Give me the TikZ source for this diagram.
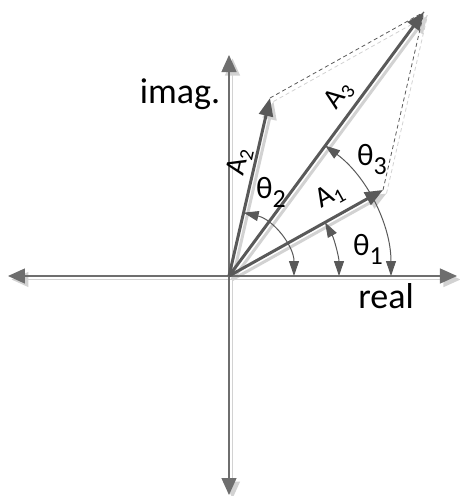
\documentclass[tikz,border=0pt]{standalone}
\usepackage{fontspec}
\setmainfont{Carlito}
\usepackage{xcolor}
\usetikzlibrary{arrows.meta, calc}
\definecolor{vecgray}{HTML}{595959}
\definecolor{axisgray}{HTML}{6E6E6E}
\definecolor{shadegray}{HTML}{D2D2D2}
\tikzset{
    phasor/.style={x=1pt, y=1pt, font=\fontsize{29}{32}\selectfont},
    axis/.style={draw=axisgray, line width=1.3pt, {Triangle[length=17pt, width=15pt]}-{Triangle[length=17pt, width=15pt]}},
    vec/.style={draw=vecgray, line width=3pt, -{Triangle[length=18pt, width=14pt]}},
    helper/.style={draw=vecgray, line width=0.8pt, dash pattern=on 4pt off 3pt},
    anglearc/.style={draw=vecgray, line width=1pt, {Triangle[length=15pt, width=10pt]}-{Triangle[length=15pt, width=10pt]}},
    % light copy of a line, pushed down and right
    shade/.style={draw=shadegray, transform canvas={shift={(3.5pt,-3.5pt)}}},
    axislabel/.style={font=\fontsize{36}{40}\selectfont, anchor=base},
    anglelabel/.style={font=\fontsize{31}{34}\selectfont, anchor=base, inner sep=0pt},
    veclabel/.style={inner sep=0pt},
}
\newcommand{\lowidx}[1]{\raisebox{-0.3em}{\fontsize{26}{26}\selectfont #1}}
\newcommand{\vecidx}[1]{\raisebox{-0.15em}{\fontsize{20}{20}\selectfont #1}}

\begin{document}
\begin{tikzpicture}[phasor]
    \useasboundingbox (-229,-220) rectangle (230,276);

    \coordinate (O)  at (0,0);
    \coordinate (W)  at (-221,0);
    \coordinate (E)  at (228,0);
    \coordinate (N)  at (0,221);
    \coordinate (S)  at (0,-219);
    \coordinate (A1) at (154,86);
    \coordinate (A2) at (41,178);
    \coordinate (A3) at (195,264);

    % shadows
    \draw[axis, shade] (W) -- (E);
    \draw[axis, shade] (S) -- (N);
    \draw[helper, shade] (A2) -- (A3);
    \draw[helper, shade] (A1) -- (A3);
    \draw[vec, shade] (O) -- (A1);
    \draw[vec, shade] (O) -- (A2);
    \draw[vec, shade] (O) -- (A3);

    \draw[axis] (W) -- (E);
    \draw[axis] (S) -- (N);
    \draw[helper] (A2) -- (A3);
    \draw[helper] (A1) -- (A3);

    \draw[anglearc] ($(O)+(0:65)$) arc[start angle=0, end angle=77, radius=65];
    \draw[anglearc] ($(O)+(0:110)$) arc[start angle=0, end angle=29.2, radius=110];
    \draw[anglearc] ($(O)+(0:162)$) arc[start angle=0, end angle=53.6, radius=162];

    \draw[vec] (O) -- (A1);
    \draw[vec] (O) -- (A2);
    \draw[vec] (O) -- (A3);

    \node[veclabel, rotate=29.2] (lab1) at (101,80)  {A\vecidx{1}};
    \node[veclabel, rotate=77]   (lab2) at (11,114)  {A\vecidx{2}};
    \node[veclabel, rotate=53.6] (lab3) at (110,181) {A\vecidx{3}};

    \node[anglelabel] (th1) at (139,21)  {θ\lowidx{1}};
    \node[anglelabel] (th2) at (42,78)   {θ\lowidx{2}};
    \node[anglelabel] (th3) at (143,111) {θ\lowidx{3}};

    \node[axislabel] (imag) at (-49,173) {imag.};
    \node[axislabel] (real) at (157,-32) {real};
\end{tikzpicture}
\end{document}
